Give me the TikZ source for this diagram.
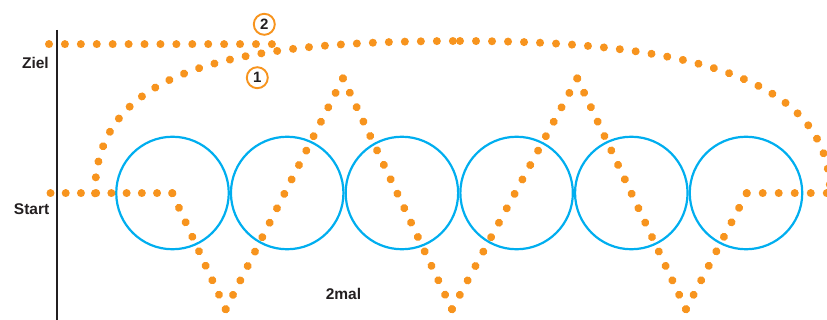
\documentclass[tikz,border=0pt]{standalone}
\usepackage{fontspec}
\setmainfont{Liberation Sans}
\definecolor{dotorange}{RGB}{247,148,30}
\definecolor{ringblue}{RGB}{0,174,239}
\definecolor{inkgray}{RGB}{35,31,32}
\begin{document}
\begin{tikzpicture}[x=1pt,y=-1pt,
  dotline/.style={draw=dotorange,line width=8pt,line cap=round,dash pattern=on 0.01pt off #1},
  ring/.style={circle,draw=ringblue,line width=2.2pt,minimum size=112.5pt,inner sep=0pt},
  lab/.style={font=\fontsize{15.5}{18}\selectfont\bfseries,text=inkgray,inner sep=0pt},
  num/.style={circle,draw=dotorange,line width=1.9pt,minimum size=21pt,inner sep=0pt,font=\fontsize{15}{17}\selectfont\bfseries,text=inkgray}]
\useasboundingbox (0,0) rectangle (827,320);
\clip (0,0) rectangle (827,320);
% axis
\coordinate (ax0) at (57.3,30);
\coordinate (ax1) at (57.3,322);
\draw[inkgray,line width=2pt] (ax0) -- (ax1);
% labels
\node[lab,anchor=east] (ziel) at (49,62.7) {Ziel};
\node[lab,anchor=east] (start) at (49.5,209.5) {Start};
\node[lab] (zweimal) at (343.5,294) {2mal};
% rings
\foreach \i in {0,...,5}
  \node[ring] (c\i) at (172.5+114.7*\i,193) {};
% zigzag route
\coordinate (s0) at (50.5,193.3);
\coordinate (s1) at (172.3,193.3);
\coordinate (v1) at (225.7,309.3);
\coordinate (p1) at (343,78.3);
\coordinate (v2) at (452,309.3);
\coordinate (p2) at (577.3,78.3);
\coordinate (v3) at (686,309.3);
\coordinate (s2) at (746.7,193.3);
\coordinate (s3) at (842.7,193.3);
\draw[dotline=15.21pt] (s0) -- (s1);
\draw[dotline=15.94pt] (s1) -- (v1);
\draw[dotline=16.17pt] (v1) -- (p1);
\draw[dotline=15.94pt] (p1) -- (v2);
\draw[dotline=16.4pt] (v2) -- (p2);
\draw[dotline=15.94pt] (p2) -- (v3);
\draw[dotline=16.35pt] (v3) -- (s2);
\draw[dotline=16pt] (s2) -- (s3);
% arc route 1
\coordinate (a0) at (95,193.3);
\coordinate (atop) at (460,41);
\coordinate (a1) at (830,193.3);
\draw[dotline=16pt] (a0) .. controls (95,70) and (230,41) .. (atop);
\draw[dotline=16pt] (atop) .. controls (680,41) and (831,75) .. (a1);
% straight route 2
\coordinate (r0) at (49,44.5);
\coordinate (r1) at (272,44.5);
\draw[dotline=15.91pt] (r0) -- (r1);
% route numbers
\node[num] (n2) at (264.3,24.3) {2};
\node[num] (n1) at (257.3,77.7) {1};
\end{tikzpicture}
\end{document}
